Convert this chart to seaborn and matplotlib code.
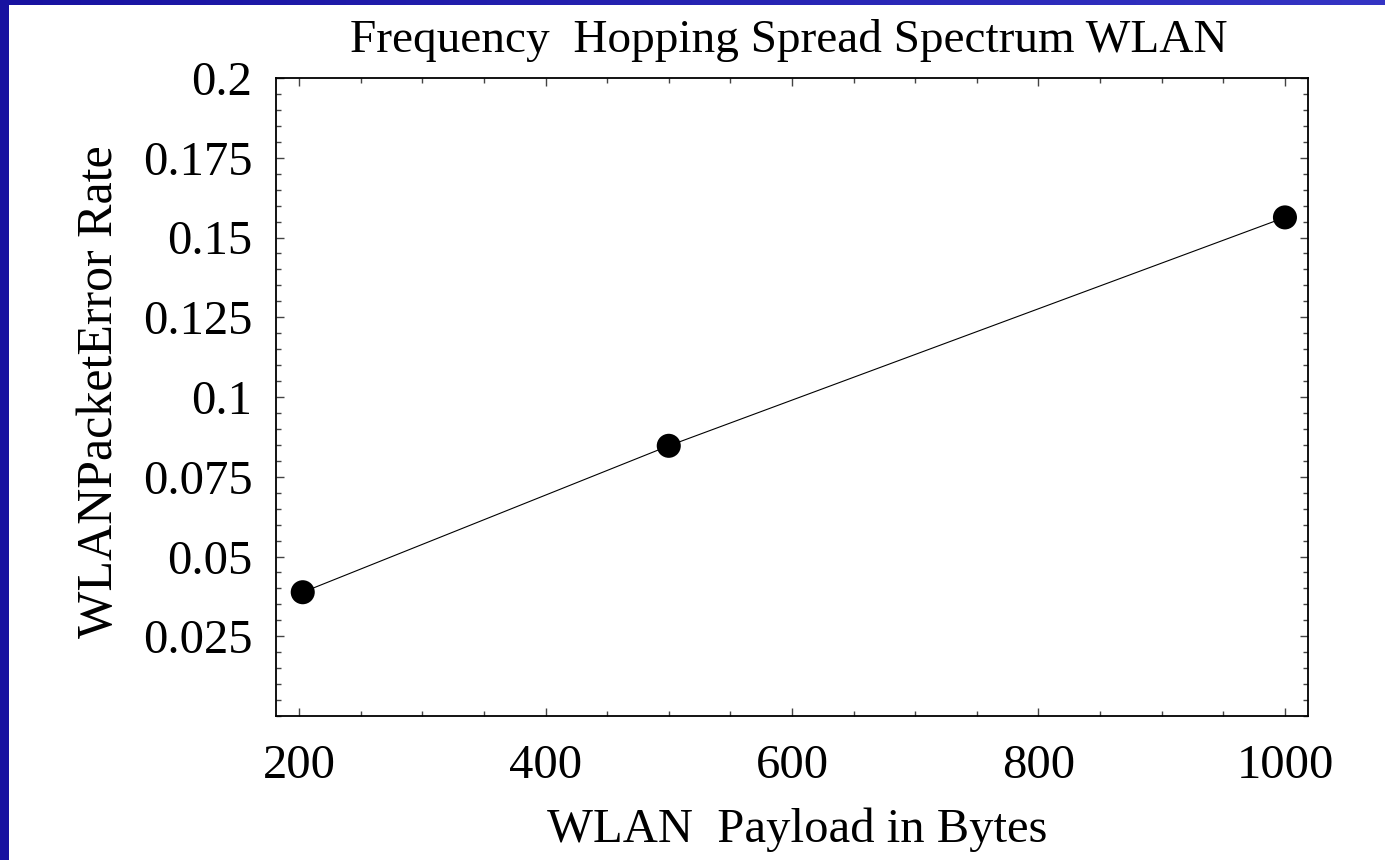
import numpy as np
import pandas as pd
import matplotlib
matplotlib.use("Agg")
import matplotlib.pyplot as plt
from matplotlib.ticker import MultipleLocator, FixedLocator
from matplotlib.colors import LinearSegmentedColormap
import seaborn as sns

# Packet error rate measured for three payload sizes
payload_bytes = [203, 500, 1000]
packet_error_rate = [0.0388, 0.0847, 0.1563]

x_ticks = [200, 400, 600, 800, 1000]
y_ticks = [0.025, 0.05, 0.075, 0.1, 0.125, 0.15, 0.175, 0.2]
y_tick_labels = ["0.025", "0.05", "0.075", "0.1", "0.125", "0.15", "0.175", "0.2"]

title = "Frequency  Hopping Spread Spectrum WLAN"
x_label = "WLAN  Payload in Bytes"
y_label = "WLANPacketError Rate"

sns.set_theme(style="ticks")
plt.rcParams["font.family"] = ["Liberation Serif", "DejaVu Serif"]
plt.rcParams["text.color"] = "black"

df = pd.DataFrame({"payload": payload_bytes, "per": packet_error_rate})

W, H = 1385, 860
fig = plt.figure(figsize=(W / 100, H / 100), dpi=100)
fig.patch.set_facecolor("white")

# slide-style blue border on the left and top
left_bar = fig.add_axes([0, 0, 8.5 / W, 1])
left_bar.axis("off")
left_bar.add_patch(plt.Rectangle((0, 0), 1, 1, color="#1812a0", transform=left_bar.transAxes))
top_bar = fig.add_axes([0, 1 - 5 / H, 1, 5 / H])
grad = np.linspace(0, 1, 256).reshape(1, -1)
cmap = LinearSegmentedColormap.from_list("band", ["#1812a0", "#3434c4"])
top_bar.imshow(grad, aspect="auto", cmap=cmap, extent=[0, 1, 0, 1])
top_bar.axis("off")

ax = fig.add_axes([276 / W, 1 - 716 / H, (1308 - 276) / W, (716 - 78) / H])
sns.lineplot(data=df, x="payload", y="per", ax=ax, color="black", linewidth=0.8)
sns.scatterplot(data=df, x="payload", y="per", ax=ax, color="black", s=300,
                edgecolor="none", zorder=3)

ax.set_xlim(181.3, 1018.7)
ax.set_ylim(0, 0.2)
ax.set_xlabel("")
ax.set_ylabel("")

ax.xaxis.set_major_locator(FixedLocator(x_ticks))
ax.xaxis.set_minor_locator(MultipleLocator(50))
ax.yaxis.set_major_locator(FixedLocator(y_ticks))
ax.set_yticklabels(y_tick_labels)
ax.yaxis.set_minor_locator(MultipleLocator(0.005))

ax.tick_params(which="both", direction="in", top=True, right=True,
               color="#444444", width=1.0, labelsize=35, labelcolor="black")
ax.tick_params(which="major", length=6)
ax.tick_params(which="minor", length=3.5)
ax.tick_params(axis="x", which="major", pad=20)
ax.tick_params(axis="y", which="major", pad=17)
for sp in ax.spines.values():
    sp.set_color("black")
    sp.set_linewidth(1.3)

fig.text(789 / W, 1 - 52 / H, title, ha="center", va="baseline", fontsize=34, color="black")
fig.text(797 / W, 1 - 842 / H, x_label, ha="center", va="baseline", fontsize=35, color="black")
fig.text(100 / W, 1 - 392 / H, y_label, ha="center", va="center", rotation=90,
         fontsize=36, color="black")

fig.savefig("out.png", dpi=100)
